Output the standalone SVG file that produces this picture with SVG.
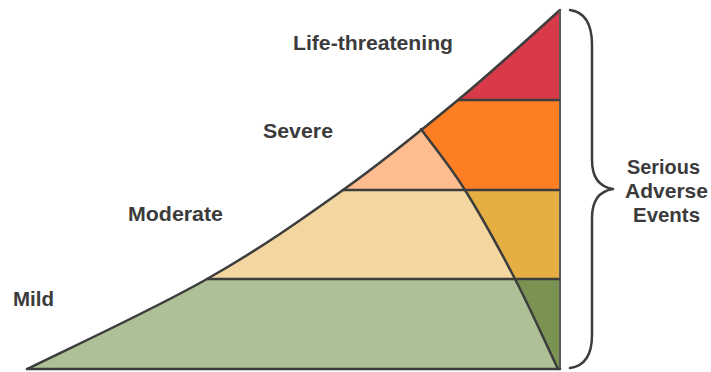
<svg xmlns="http://www.w3.org/2000/svg" width="711" height="372" viewBox="0 0 711 372">
  <style>
    .lbl { font-family: "Liberation Sans", Arial, sans-serif; font-weight: bold; font-size: 21px; fill: #3b3b3b; }
    .ln { fill: none; stroke: #3d3d3d; stroke-width: 2.5; stroke-linejoin: round; stroke-linecap: round; }
    .edge { fill: none; stroke: #5a5a5a; stroke-width: 2; }
  </style>
  <defs>
    <clipPath id="tri">
      <path d="M27,369 C88.7,339 154.3,308.8 207,279 C259.7,249.2 301.2,219.8 343,190 C384.8,160.2 421.8,130 458,100 C494.2,70 526.7,40 560,10 L560,369 Z"/>
    </clipPath>
    <clipPath id="serious">
      <path d="M421,129 C435.7,149.3 449.3,165 465,190 C480.7,215 499.5,249.2 515,279 C530.5,308.8 543.7,339 558,369 L600,369 L600,0 L400,0 L400,129 Z"/>
    </clipPath>
  </defs>
  <rect width="711" height="372" fill="#ffffff"/>

  <g clip-path="url(#tri)">
    <g id="mild-region"><rect x="0" y="279" width="600" height="93" fill="#AEC095"/></g>
    <g id="moderate-region"><rect x="0" y="190" width="600" height="89" fill="#F3D6A0"/></g>
    <g id="severe-region"><rect x="0" y="0" width="600" height="190" fill="#FFBD8F"/></g>
    <g clip-path="url(#serious)">
      <g id="life-threatening-region"><rect x="0" y="0" width="600" height="100" fill="#D83A4A"/></g>
      <g id="serious-severe-region"><rect x="0" y="100" width="600" height="90" fill="#FD7E23"/></g>
      <g id="serious-moderate-region"><rect x="0" y="190" width="600" height="89" fill="#E5AE42"/></g>
      <g id="serious-mild-region"><rect x="0" y="279" width="600" height="93" fill="#7A9352"/></g>
    </g>
  </g>

  <g id="outlines">
    <path class="ln" d="M27,369 C88.7,339 154.3,308.8 207,279 C259.7,249.2 301.2,219.8 343,190 C384.8,160.2 421.8,130 458,100 C494.2,70 526.7,40 560,10"/>
    <line class="edge" x1="560" y1="10" x2="560" y2="369"/>
    <line class="ln" x1="27" y1="369" x2="560" y2="369"/>
    <line class="ln" x1="458" y1="100" x2="559" y2="100"/>
    <line class="ln" x1="343" y1="190" x2="559" y2="190"/>
    <line class="ln" x1="207" y1="279" x2="559" y2="279"/>
    <path class="ln" d="M421,129 C435.7,149.3 449.3,165 465,190 C480.7,215 499.5,249.2 515,279 C530.5,308.8 543.7,339 558,369"/>
  </g>

  <g id="connectors">
    <path class="ln" d="M570,10 C585,12 592,25 592,45 L592,160 C592,178 600,187 613,189 C600,191 592,200 592,218 L592,335 C592,355 585,366 570,368"/>
  </g>

  <g id="label-life-threatening"><text class="lbl" x="293" y="50" textLength="160" lengthAdjust="spacingAndGlyphs">Life-threatening</text></g>
  <g id="label-severe"><text class="lbl" x="263" y="138" textLength="70" lengthAdjust="spacingAndGlyphs">Severe</text></g>
  <g id="label-moderate"><text class="lbl" x="128" y="221" textLength="95" lengthAdjust="spacingAndGlyphs">Moderate</text></g>
  <g id="label-mild"><text class="lbl" x="13" y="306" textLength="41" lengthAdjust="spacingAndGlyphs">Mild</text></g>
  <g id="label-serious">
    <text class="lbl" x="627" y="174" textLength="73" lengthAdjust="spacingAndGlyphs">Serious</text>
    <text class="lbl" x="625" y="198" textLength="83" lengthAdjust="spacingAndGlyphs">Adverse</text>
    <text class="lbl" x="633" y="222" textLength="67" lengthAdjust="spacingAndGlyphs">Events</text>
  </g>
</svg>
